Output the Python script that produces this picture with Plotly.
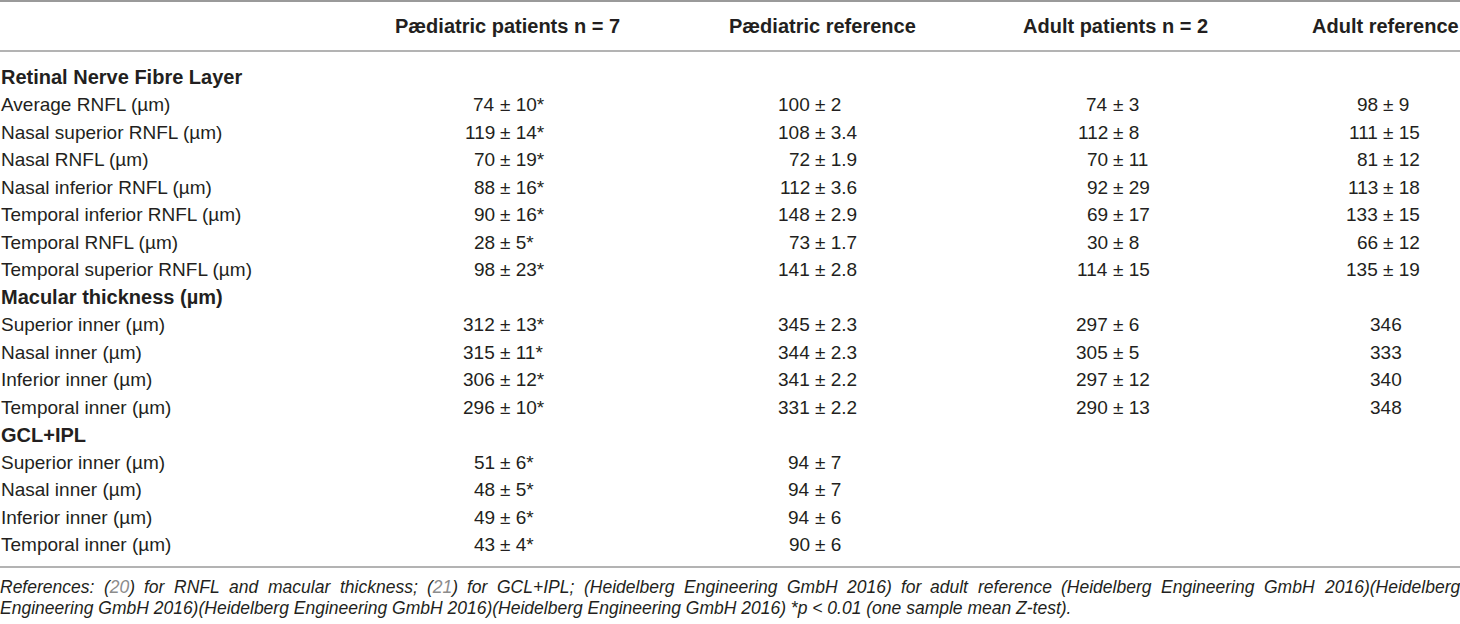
"""
OCT thickness table (RNFL / macular / GCL+IPL) redrawn with Plotly annotations.
"""
import plotly.graph_objects as go

# Table content
headers = [
    "Pædiatric patients n = 7",
    "Pædiatric reference",
    "Adult patients n = 2",
    "Adult reference",
]

row_labels = [
    "Retinal Nerve Fibre Layer",
    "Average RNFL (µm)",
    "Nasal superior RNFL (µm)",
    "Nasal RNFL (µm)",
    "Nasal inferior RNFL (µm)",
    "Temporal inferior RNFL (µm)",
    "Temporal RNFL (µm)",
    "Temporal superior RNFL (µm)",
    "Macular thickness (µm)",
    "Superior inner (µm)",
    "Nasal inner (µm)",
    "Inferior inner (µm)",
    "Temporal inner (µm)",
    "GCL+IPL",
    "Superior inner (µm)",
    "Nasal inner (µm)",
    "Inferior inner (µm)",
    "Temporal inner (µm)",
]
section_rows = [0, 8, 13]

paed_patients = [
    "", "74 ± 10*", "119 ± 14*", "70 ± 19*", "88 ± 16*", "90 ± 16*", "28 ± 5*", "98 ± 23*",
    "", "312 ± 13*", "315 ± 11*", "306 ± 12*", "296 ± 10*",
    "", "51 ± 6*", "48 ± 5*", "49 ± 6*", "43 ± 4*",
]
paed_reference = [
    "", "100 ± 2", "108 ± 3.4", "72 ± 1.9", "112 ± 3.6", "148 ± 2.9", "73 ± 1.7", "141 ± 2.8",
    "", "345 ± 2.3", "344 ± 2.3", "341 ± 2.2", "331 ± 2.2",
    "", "94 ± 7", "94 ± 7", "94 ± 6", "90 ± 6",
]
adult_patients = [
    "", "74 ± 3", "112 ± 8", "70 ± 11", "92 ± 29", "69 ± 17", "30 ± 8", "114 ± 15",
    "", "297 ± 6", "305 ± 5", "297 ± 12", "290 ± 13",
    "", "", "", "", "",
]
adult_reference = [
    "", "98 ± 9", "111 ± 15", "81 ± 12", "113 ± 18", "133 ± 15", "66 ± 12", "135 ± 19",
    "", "346", "333", "340", "348",
    "", "", "", "", "",
]

footnote_1 = (
    "References: (20) for RNFL and macular thickness; (21) for GCL+IPL; "
    "(Heidelberg Engineering GmbH 2016) for adult reference "
    "(Heidelberg Engineering GmbH 2016)(Heidelberg"
)
footnote_2 = (
    "Engineering GmbH 2016)(Heidelberg Engineering GmbH 2016)"
    "(Heidelberg Engineering GmbH 2016) *p < 0.01 (one sample mean Z-test)."
)
cited_refs = ["20", "21"]

# Layout / style
W, H = 1460, 624
FONT = "Liberation Sans"
INK = "#231f20"
RULE = "#9a9a9a"
CITE = "#8c8c8c"
BODY_SIZE = 19
HEAD_SIZE = 20
NOTE_SIZE = 17.5

ROW0_PX, ROW_PX = 77, 27.5          # first row centre, row pitch (pixels)
HEADER_PX = 26
RULES_PX = [1, 51, 567]
NOTE_PX = [587, 608]

columns = [paed_patients, paed_reference, adult_patients, adult_reference]
pm_left = [500, 815, 1113, 1383]    # x where the "±" starts in each column
plain_center = [507, 822, 1116, 1386]
header_x = [507, 822, 1115, 1312]
header_anchor = ["center", "center", "center", "left"]

# Arial / Liberation Sans advance widths (1/1000 em), for justifying the note
_ARIAL = {
    " ": 278, "(": 333, ")": 333, ":": 278, ";": 278, "+": 584, ".": 278,
    "C": 722, "E": 667, "F": 611, "G": 778, "H": 722, "I": 278, "L": 556,
    "N": 722, "P": 667, "R": 722,
    "c": 500, "f": 278, "i": 222, "k": 500, "l": 222, "m": 833, "r": 333,
    "s": 500, "t": 278,
}


def _text_width(s, size):
    return sum(_ARIAL.get(ch, 556) for ch in s) * size / 1000.0


def row_at(px):
    """Pixel position -> row units of the y axis."""
    return (px - ROW0_PX) / ROW_PX


def _ann(x, y, text, anchor="left", size=BODY_SIZE, color=INK):
    return dict(
        x=x, y=y, xref="x", yref="y", text=text, showarrow=False,
        xanchor=anchor, yanchor="middle", borderpad=0, borderwidth=0,
        font=dict(family=FONT, size=size, color=color),
    )


annotations = []

# column headers
for text, x, anchor in zip(headers, header_x, header_anchor):
    annotations.append(_ann(x, row_at(HEADER_PX), f"<b>{text}</b>", anchor, HEAD_SIZE))

# row labels
for i, label in enumerate(row_labels):
    if i in section_rows:
        annotations.append(_ann(1, i, f"<b>{label}</b>", "left", HEAD_SIZE))
    else:
        annotations.append(_ann(1, i, label))

# cells, aligned on the "±"
gap = _text_width(" ", BODY_SIZE)
for values, x_pm, x_mid in zip(columns, pm_left, plain_center):
    for i, cell in enumerate(values):
        if not cell:
            continue
        if "±" in cell:
            num, rest = cell.split("±", 1)
            annotations.append(_ann(x_pm - gap, i, num.strip(), "right"))
            annotations.append(_ann(x_pm, i, "±" + rest, "left"))
        else:
            annotations.append(_ann(x_mid, i, cell, "center"))

# footnote, first line justified to the full width
words = footnote_1.split(" ")
widths = [_text_width(w, NOTE_SIZE) for w in words]
spacing = (W - 1 - sum(widths)) / (len(words) - 1)
x = 0.0
for w, wd in zip(words, widths):
    shown = w
    for ref in cited_refs:
        if w.startswith(f"({ref})"):
            shown = w.replace(ref, f"<span style='color:{CITE}'>{ref}</span>", 1)
    annotations.append(_ann(x, row_at(NOTE_PX[0]), f"<i>{shown}</i>", "left", NOTE_SIZE))
    x += wd + spacing
annotations.append(_ann(0, row_at(NOTE_PX[1]), f"<i>{footnote_2}</i>", "left", NOTE_SIZE))

shapes = [
    dict(type="line", xref="x", yref="y", x0=0, x1=W, y0=row_at(y), y1=row_at(y),
         line=dict(color=RULE, width=2 if y == RULES_PX[0] else 1.5))
    for y in RULES_PX
]

fig = go.Figure()
fig.update_layout(
    width=W,
    height=H,
    margin=dict(l=0, r=0, t=0, b=0),
    paper_bgcolor="white",
    plot_bgcolor="white",
    showlegend=False,
    xaxis=dict(range=[0, W], visible=False, fixedrange=True),
    yaxis=dict(range=[row_at(H), row_at(0)], visible=False, fixedrange=True),
    annotations=annotations,
    shapes=shapes,
)

fig.write_html(
    "out.html",
    config={"displayModeBar": False},
    post_script="document.body.style.margin='0';",
)
